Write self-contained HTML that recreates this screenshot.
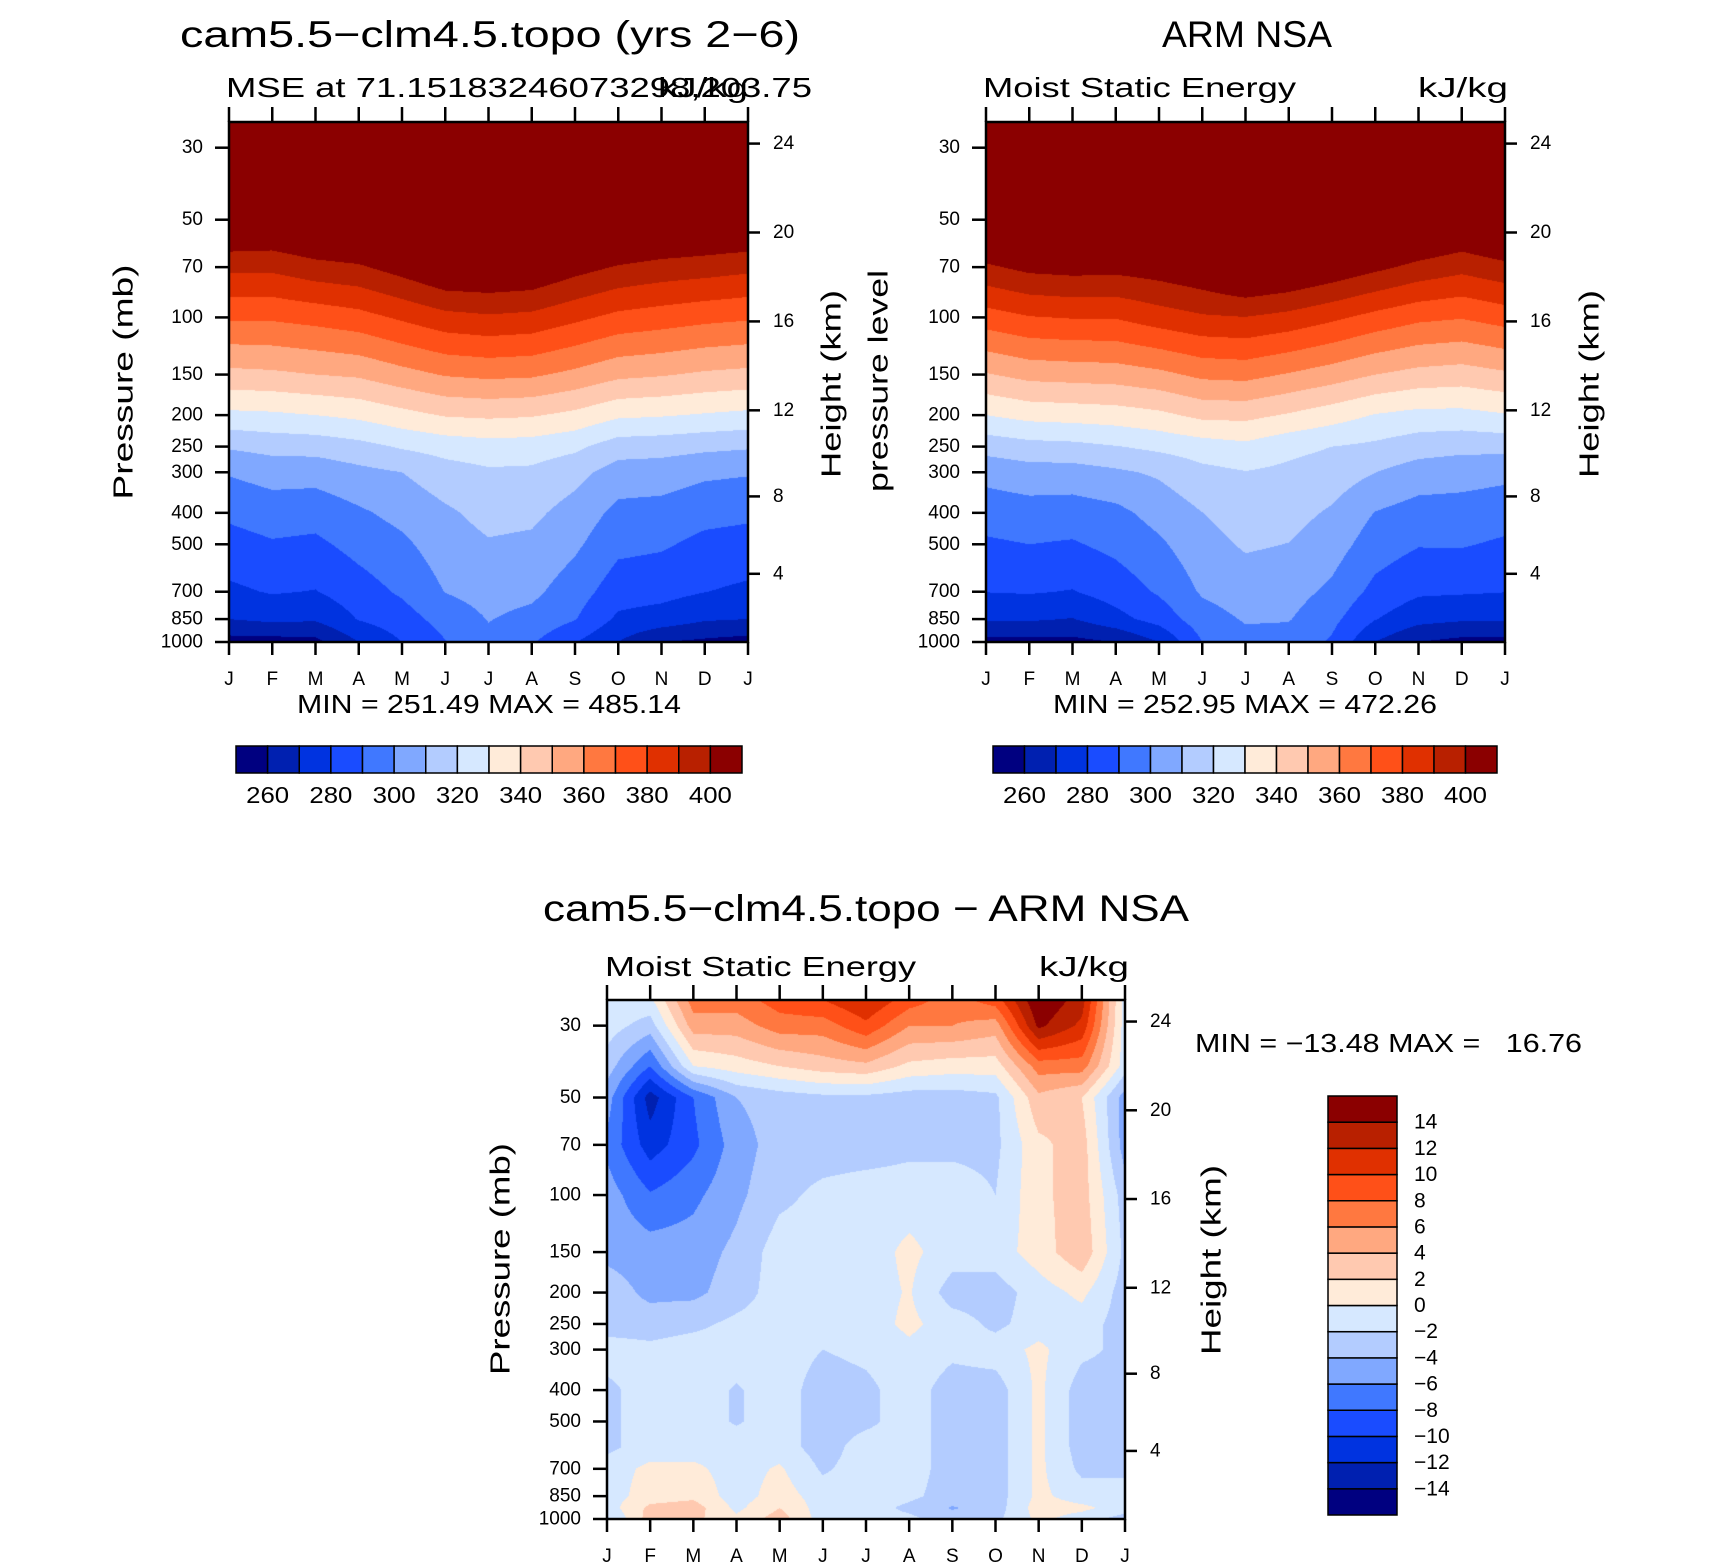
<!DOCTYPE html>
<html><head><meta charset="utf-8">
<style>
html,body{margin:0;padding:0;background:#fff;}
#root{position:relative;width:1710px;height:1567px;overflow:hidden;background:#fff;font-family:"Liberation Sans",sans-serif;}
canvas{position:absolute;}
svg{position:absolute;left:0;top:0;}
</style></head>
<body>
<div id="root">
<canvas id="c1" width="519" height="520" style="left:229px;top:122px"></canvas>
<canvas id="c2" width="519" height="520" style="left:986px;top:122px"></canvas>
<canvas id="c3" width="518" height="519" style="left:607px;top:1000px"></canvas>
<svg id="ov" width="1710" height="1567" font-family="Liberation Sans, sans-serif">
  <text x="490" y="47" font-size="37" text-anchor="middle" textLength="620" lengthAdjust="spacingAndGlyphs">cam5.5−clm4.5.topo (yrs 2−6)</text>
  <text x="226" y="97" font-size="28" textLength="586" lengthAdjust="spacingAndGlyphs">MSE at 71.15183246073298,203.75</text>
  <text x="748" y="97" font-size="28" text-anchor="end" textLength="90" lengthAdjust="spacingAndGlyphs">kJ/kg</text>
  <text x="1247" y="47" font-size="37" text-anchor="middle" textLength="170" lengthAdjust="spacingAndGlyphs">ARM NSA</text>
  <text x="983" y="97" font-size="28" textLength="313" lengthAdjust="spacingAndGlyphs">Moist Static Energy</text>
  <text x="1508" y="97" font-size="28" text-anchor="end" textLength="90" lengthAdjust="spacingAndGlyphs">kJ/kg</text>
  <text x="866" y="921" font-size="37" text-anchor="middle" textLength="646" lengthAdjust="spacingAndGlyphs">cam5.5−clm4.5.topo − ARM NSA</text>
  <text x="605" y="976" font-size="28" textLength="311" lengthAdjust="spacingAndGlyphs">Moist Static Energy</text>
  <text x="1129" y="976" font-size="28" text-anchor="end" textLength="90" lengthAdjust="spacingAndGlyphs">kJ/kg</text>
  <text x="489" y="713" font-size="26" text-anchor="middle" textLength="384" lengthAdjust="spacingAndGlyphs">MIN = 251.49 MAX = 485.14</text>
  <text x="1245" y="713" font-size="26" text-anchor="middle" textLength="384" lengthAdjust="spacingAndGlyphs">MIN = 252.95 MAX = 472.26</text>
  <text x="1195" y="1052" font-size="26" textLength="387" lengthAdjust="spacingAndGlyphs" xml:space="preserve">MIN = −13.48 MAX =   16.76</text>
  <text transform="translate(123,382) rotate(-90)" font-size="28" text-anchor="middle" dominant-baseline="central" textLength="235" lengthAdjust="spacingAndGlyphs">Pressure (mb)</text>
  <text transform="translate(831,384) rotate(-90)" font-size="28" text-anchor="middle" dominant-baseline="central" textLength="188" lengthAdjust="spacingAndGlyphs">Height (km)</text>
  <text transform="translate(878,381) rotate(-90)" font-size="28" text-anchor="middle" dominant-baseline="central" textLength="222" lengthAdjust="spacingAndGlyphs">pressure level</text>
  <text transform="translate(1589,384) rotate(-90)" font-size="28" text-anchor="middle" dominant-baseline="central" textLength="188" lengthAdjust="spacingAndGlyphs">Height (km)</text>
  <text transform="translate(500,1259) rotate(-90)" font-size="28" text-anchor="middle" dominant-baseline="central" textLength="232" lengthAdjust="spacingAndGlyphs">Pressure (mb)</text>
  <text transform="translate(1211,1260) rotate(-90)" font-size="28" text-anchor="middle" dominant-baseline="central" textLength="190" lengthAdjust="spacingAndGlyphs">Height (km)</text>
</svg>
</div>
<script>
// ---------- data ----------
const months = ['J','F','M','A','M','J','J','A','S','O','N','D','J'];
const absLevels = [1000,850,700,500,400,300,250,200,150,100,70,50,30,25];
const pressureTicks = [30,50,70,100,150,200,250,300,400,500,700,850,1000];
const heightTicks = [4,8,12,16,20,24];
const absContours = [260,270,280,290,300,310,320,330,340,350,360,370,380,390,400];
const absBarLabels = [260,280,300,320,340,360,380,400];
const diffContours = [-14,-12,-10,-8,-6,-4,-2,0,2,4,6,8,10,12,14];
const palette = ['#000080','#0020b0','#0033e0','#1a4cff','#4078ff','#80a8ff','#b3ccff','#d6e8ff','#ffebd9','#ffc9b0','#ffa880','#ff7840','#ff5018','#e03000','#b82000','#8b0000'];
// model MSE (kJ/kg), rows = months J..J, cols = absLevels
const modelMSE = [
[256,270,278,286.3,291.9,300.9,311.1,327.6,347.2,371.3,392.7,415,440,450],
[256,272.2,280.8,289,294.8,304,313.4,328.3,348.1,371.5,392.4,414,440,450],
[257,271.3,279.6,287.9,294,303.8,314,330,350,373.6,396.5,418,440,450],
[270,280.6,285.5,293.4,298.5,307.3,316.8,332.3,351.5,376.4,398.6,420,445,455],
[280,285.5,291.5,298,303,310,321.1,336.7,356.4,381.6,404.5,426,450,460],
[289.5,294,300.3,305.1,308.3,315.7,324,340.8,360.8,386.8,411.5,433,455,465],
[297.8,300.4,303.7,309.1,313.2,318.5,325.9,341.8,362.3,388.6,412,434,455,465],
[291,297.2,302.2,308,312.2,318.1,325.2,340.9,361.5,387.3,410.6,432,455,465],
[280.5,290.5,294.8,301.8,306,313.3,322.2,337.5,357.5,382.3,404.1,426,450,460],
[270,278.1,284.5,292.6,297.2,305.5,314.8,331.8,352.3,377.3,399.1,421,445,455],
[260,275.7,283.2,291.3,296.4,304.9,314,330.8,350.8,375.1,396.3,418,440,450],
[258,271.1,280.2,287.4,293.1,302,312.3,329.1,348.5,372.8,394.8,416,440,450],
[256,270,278,286.3,291.9,300.9,311.1,327.6,347.2,371.3,392.7,415,440,450]
];
// ARM NSA MSE
const obsMSE = [
[257,271.1,280.2,288.5,294.3,303.3,313.8,330,349.2,375.5,398.3,420,445,455],
[257,271.2,280.8,290,295.8,305.7,316.5,333.3,353.2,379.4,402.8,424,445,455],
[257,269.6,279.5,289,295.2,305.8,317.3,334.2,354,380.6,404,425,445,455],
[260,276.7,284.3,292.7,297.4,308.3,319.6,335.2,354.8,380.6,403.4,425,445,455],
[270,284,291.2,298.3,303.6,311.5,322.3,337.7,357.5,385.2,405.5,427,450,460],
[290,295.7,301.2,306.4,309.9,317.3,325.2,342.5,362.3,388.7,409.2,431,455,465],
[297,300.9,304.8,311.2,314.9,319.6,327.5,342.9,363.2,389.7,416,436,455,465],
[296,300.6,304,309.8,313.4,317.8,322.7,339,359.2,386.8,413,434,455,465],
[288.7,292.7,297.8,304.6,308.7,315.4,320,334.5,355,382.1,408,430,450,460],
[270,280.4,287.1,295,299.6,310.1,317.9,329.4,350,376.8,402.5,424,445,455],
[260,273.3,281.5,290.6,295.9,305.4,314.3,326.9,346.7,372.3,397.1,419,440,450],
[257,271.3,281,290.8,295.8,304.1,312.7,326.9,345.4,370.6,393.2,414,440,450],
[257,271.1,280.2,288.5,294.2,302.6,313.2,329.2,348.3,374.4,397.3,419,440,450]
];
const diffLevels = [1000,925,850,700,600,500,400,300,250,200,150,100,70,50,40,30,25];
const diffMSE = [
[-2.5,-1,-1,-1,-2.5,-2.5,-2.5,-1,-3,-3,-4.5,-5,-6.5,-5,-3,-1,-0.5],
[3,2.5,1,0.5,-1,-1,-1,-1.5,-3,-4.5,-5,-7.8,-11,-13,-8,-3,-0.5],
[2.5,3,1.5,0.5,-1,-1,-1,-1,-2.5,-4.5,-5,-6.5,-8.5,-8,0,5,7],
[0.5,-0.5,-1,-1,-1,-2.2,-2.2,-1,-1.5,-3,-3.5,-4.5,-5,-4,1,5,7],
[3,2,1,0.3,-1,-1,-1,-1,-1,-1,-1,-2.5,-3,-3,2,7,9],
[-1,-1,-1,-2.3,-3,-3,-3,-2,-1,-1,-1,-1.5,-3,-2.5,3,7,10],
[-1,-1,-1,-1,-1,-2.5,-2.5,-1.5,-1,-1,-1,-1,-3,-2.5,3.5,9.5,12],
[-1.5,-2.5,-1.5,-1,-1,-1,-1,-0.5,0.5,0.2,0.5,-1,-2.5,-3,1.5,6,9],
[-3,-4.2,-3,-3,-3,-3,-3,-1.5,-1,-3,-1,-1,-2.5,-3,1,6,7],
[-2.5,-3,-3,-3,-3,-3,-3,-1,-2.5,-3,-1,-2,-2.5,-2.5,1,5,9],
[0.5,1,0.5,0.5,0.5,0.5,0.5,0.5,-1,-1,1,1.5,1.5,3.5,7,14.5,16],
[-1,0.5,-1,-2.5,-3,-3,-3,-1.5,-1,0.5,3.5,3,3,2,7,11.5,13],
[-3,-1,-1,-2.5,-3,-3,-3,-2.5,-3,-3,-2.5,-3,-5,-5,-1,-1,-1]
];
const diffBarLabels = [14,12,10,8,6,4,2,0,-2,-4,-6,-8,-10,-12,-14];

// ---------- helpers ----------
const NS = 'http://www.w3.org/2000/svg';
const ov = document.getElementById('ov');
function mk(tag, attrs, parent) {
  const e = document.createElementNS(NS, tag);
  for (const k in attrs) e.setAttribute(k, attrs[k]);
  (parent || ov).appendChild(e);
  return e;
}
function pOfZ(z) {
  if (z <= 11) return 1013.25 * Math.pow(1 - 0.0065 * z * 1000 / 288.15, 5.25588);
  return 226.32 * Math.exp(-(z - 11) / 6.3416);
}
function bandIndex(v, contours) {
  let i = 0;
  while (i < contours.length && v >= contours[i]) i++;
  return i;
}
function hexRGB(h) { return [parseInt(h.substr(1,2),16), parseInt(h.substr(3,2),16), parseInt(h.substr(5,2),16)]; }
const rgbPal = palette.map(hexRGB);

function fillField(canvasId, grid, levels, pTop, contours) {
  const cv = document.getElementById(canvasId);
  const W = cv.width, H = cv.height;
  const ctx = cv.getContext('2d');
  const img = ctx.createImageData(W, H);
  const lnL = levels.map(p => Math.log(p));
  const lnTop = Math.log(pTop), ln1000 = Math.log(1000);
  const nM = grid.length - 1;
  for (let j = 0; j < H; j++) {
    const lnp = lnTop + (j + 0.5) / H * (ln1000 - lnTop);
    let k = 0;
    while (k < lnL.length - 2 && lnp < lnL[k + 1]) k++;
    let s = (lnL[k] - lnp) / (lnL[k] - lnL[k + 1]);
    s = Math.max(0, Math.min(1, s));
    for (let i = 0; i < W; i++) {
      const mf = (i + 0.5) / W * nM;
      let m = Math.min(nM - 1, Math.floor(mf));
      const t = mf - m;
      const a = grid[m][k] * (1 - s) + grid[m][k + 1] * s;
      const b = grid[m + 1][k] * (1 - s) + grid[m + 1][k + 1] * s;
      const v = a * (1 - t) + b * t;
      const c = rgbPal[bandIndex(v, contours)];
      const o = (j * W + i) * 4;
      img.data[o] = c[0]; img.data[o + 1] = c[1]; img.data[o + 2] = c[2]; img.data[o + 3] = 255;
    }
  }
  ctx.putImageData(img, 0, 0);
}

function drawAxes(prefix, X, Y, W, H, pTop) {
  const yOf = p => Y + H * Math.log(p / pTop) / Math.log(1000 / pTop);
  const g = mk('g', {});
  
  
  pressureTicks.forEach(p => {
    const y = yOf(p);
    const tk = mk('line', {x1: X - 14, x2: X, y1: y, y2: y, stroke: '#000', 'stroke-width': 2.5}, g);
    
    
    const tx = mk('text', {x: X - 26, y: y, 'font-size': 19, 'text-anchor': 'end', 'dominant-baseline': 'central'}, g);
    
    
    tx.textContent = p;
  });
  heightTicks.forEach(z => {
    const y = yOf(pOfZ(z));
    const tk = mk('line', {x1: X + W, x2: X + W + 12, y1: y, y2: y, stroke: '#000', 'stroke-width': 2.5}, g);
    
    
    const tx = mk('text', {x: X + W + 25, y: y, 'font-size': 19, 'dominant-baseline': 'central'}, g);
    
    
    tx.textContent = z;
  });
  months.forEach((m, i) => {
    const x = X + i * W / (months.length - 1);
    const tb = mk('line', {x1: x, x2: x, y1: Y + H, y2: Y + H + 13, stroke: '#000', 'stroke-width': 2.5}, g);
    
    
    const tt = mk('line', {x1: x, x2: x, y1: Y - 15, y2: Y, stroke: '#000', 'stroke-width': 2.5}, g);
    
    
    const tx = mk('text', {x: x, y: Y + H + 43, 'font-size': 19, 'text-anchor': 'middle'}, g);
    
    
    tx.textContent = m;
  });
  const fr = mk('rect', {x: X, y: Y, width: W, height: H, fill: 'none', stroke: '#000', 'stroke-width': 2.5}, g);
  
  
}

function hBar(prefix, X, Y, W, H) {
  const g = mk('g', {});
  
  
  const n = palette.length;
  palette.forEach((c, i) => {
    const r = mk('rect', {x: X + i * W / n, y: Y, width: W / n, height: H, fill: c, stroke: '#000', 'stroke-width': 1.5}, g);
    
    
  });
  absBarLabels.forEach(v => {
    const b = absContours.indexOf(v) + 1;
    const t = mk('text', {x: X + b * W / n, y: Y + 57, 'font-size': 23, 'text-anchor': 'middle', textLength: 43, lengthAdjust: 'spacingAndGlyphs'}, g);
    
    
    t.textContent = v;
  });
}

function vBar(prefix, X, Y, W, H) {
  const g = mk('g', {});
  
  
  const n = palette.length;
  palette.forEach((c, i) => {
    const r = mk('rect', {x: X, y: Y + H - (i + 1) * H / n, width: W, height: H / n, fill: c, stroke: '#000', 'stroke-width': 1.5}, g);
    
    
  });
  diffBarLabels.forEach(v => {
    const b = diffContours.indexOf(v) + 1;
    const t = mk('text', {x: X + 17 + W, y: Y + H - b * H / n, 'font-size': 21, 'dominant-baseline': 'central'}, g);
    
    
    t.textContent = String(v).replace('-', '\u2212');
  });
}

// ---------- render ----------
fillField('c1', modelMSE, absLevels, 25, absContours);
fillField('c2', obsMSE, absLevels, 25, absContours);
fillField('c3', diffMSE, diffLevels, 25, diffContours);
drawAxes('model', 229, 122, 519, 520, 25);
drawAxes('obs', 986, 122, 519, 520, 25);
drawAxes('diff', 607, 1000, 518, 519, 25);
hBar('model', 236, 746, 506, 27);
hBar('obs', 993, 746, 504, 27);
vBar('diff', 1328, 1096, 69, 419);
</script>
</body></html>
